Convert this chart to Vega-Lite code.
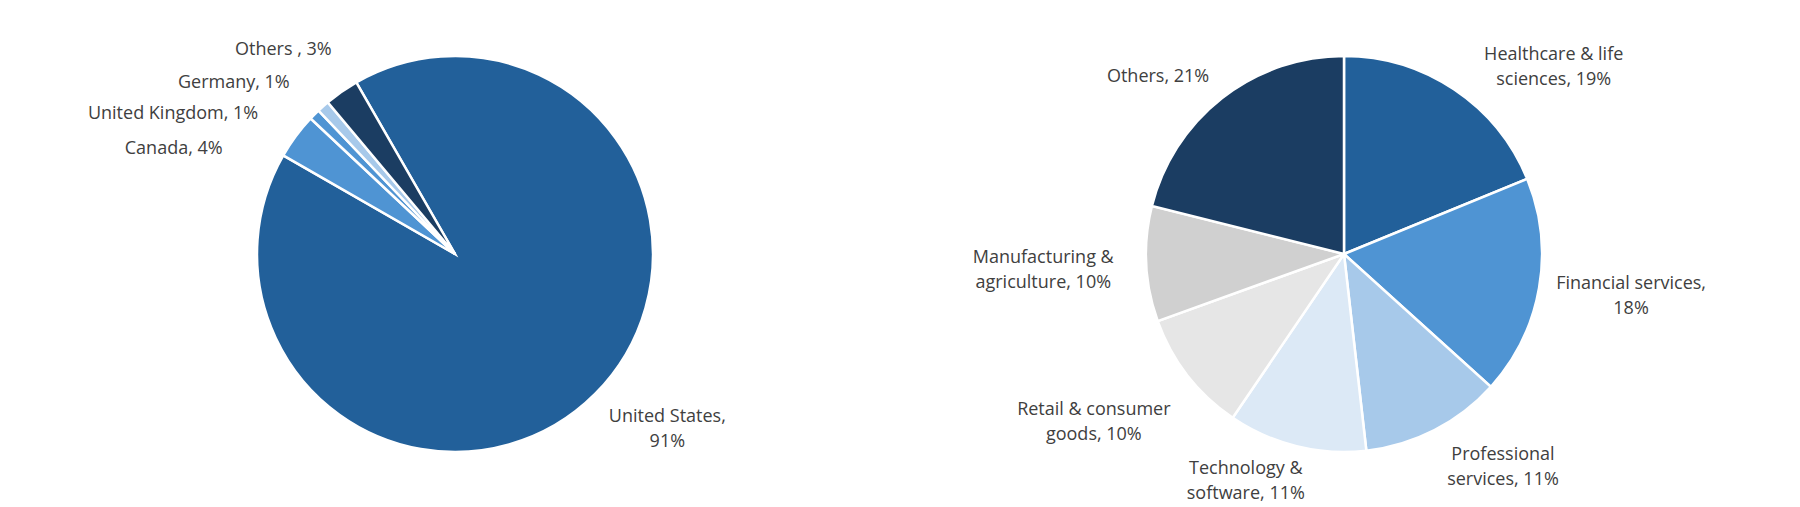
{
  "$schema": "https://vega.github.io/schema/vega-lite/v6.json",
  "padding": {"left": 0, "top": 10, "right": 0, "bottom": 0},
  "spacing": 0,
  "resolve": {"scale": {"color": "independent", "theta": "independent"}},
  "config": {
    "view": {"stroke": null},
    "text": {"font": "Open Sans", "fontSize": 18, "color": "#404040", "lineBreak": "\n", "lineHeight": 25, "baseline": "middle"}
  },
  "hconcat": [
    {
      "width": 910,
      "height": 488,
      "data": {
        "values": [
          {"region": "United States", "share": 91.6, "label": "United States,\n91%"},
          {"region": "Canada", "share": 3.7, "label": "Canada, 4%"},
          {"region": "United Kingdom", "share": 0.9, "label": "United Kingdom, 1%"},
          {"region": "Germany", "share": 1.0, "label": "Germany, 1%"},
          {"region": "Others", "share": 2.8, "label": "Others , 3%"}
        ]
      },
      "transform": [{"window": [{"op": "row_number", "as": "ord"}]}],
      "encoding": {
        "theta": {"field": "share", "type": "quantitative", "stack": true, "scale": {"range": [-0.5219, 5.7613]}},
        "order": {"field": "ord", "type": "quantitative"}
      },
      "layer": [
        {
          "mark": {"type": "arc", "outerRadius": 198, "stroke": "white", "strokeWidth": 2.5},
          "encoding": {
            "color": {
              "field": "region",
              "type": "nominal",
              "legend": null,
              "scale": {
                "domain": ["United States", "Canada", "United Kingdom", "Germany", "Others"],
                "range": ["#22609a", "#4f94d3", "#4f94d3", "#a7c9ea", "#1b3d62"]
              }
            }
          }
        },
        {
          "mark": {"type": "text", "radius": 197, "align": "center", "dx": 73, "dy": 23.5},
          "encoding": {"detail": {"field": "region"}, "text": {"condition": {"test": "datum.region === 'United States'", "field": "label"}, "value": ""}}
        },
        {
          "mark": {"type": "text", "radius": 197, "align": "right", "dx": -74, "dy": 12.5},
          "encoding": {"detail": {"field": "region"}, "text": {"condition": {"test": "datum.region === 'Canada'", "field": "label"}, "value": ""}}
        },
        {
          "mark": {"type": "text", "radius": 197, "align": "right", "dx": -57, "dy": -1},
          "encoding": {"detail": {"field": "region"}, "text": {"condition": {"test": "datum.region === 'United Kingdom'", "field": "label"}, "value": ""}}
        },
        {
          "mark": {"type": "text", "radius": 197, "align": "right", "dx": -34, "dy": -24},
          "encoding": {"detail": {"field": "region"}, "text": {"condition": {"test": "datum.region === 'Germany'", "field": "label"}, "value": ""}}
        },
        {
          "mark": {"type": "text", "radius": 197, "align": "right", "dx": -10.5, "dy": -43},
          "encoding": {"detail": {"field": "region"}, "text": {"condition": {"test": "datum.region === 'Others'", "field": "label"}, "value": ""}}
        }
      ]
    },
    {
      "width": 868,
      "height": 488,
      "data": {
        "values": [
          {"sector": "Healthcare & life sciences", "share": 18.8, "label": "Healthcare & life\nsciences, 19%"},
          {"sector": "Financial services", "share": 17.9, "label": "Financial services,\n18%"},
          {"sector": "Professional services", "share": 11.5, "label": "Professional\nservices, 11%"},
          {"sector": "Technology & software", "share": 11.3, "label": "Technology &\nsoftware, 11%"},
          {"sector": "Retail & consumer goods", "share": 10.0, "label": "Retail & consumer\ngoods, 10%"},
          {"sector": "Manufacturing & agriculture", "share": 9.4, "label": "Manufacturing &\nagriculture, 10%"},
          {"sector": "Others", "share": 21.1, "label": "Others, 21%"}
        ]
      },
      "transform": [{"window": [{"op": "row_number", "as": "ord"}]}],
      "encoding": {
        "theta": {"field": "share", "type": "quantitative", "stack": true},
        "order": {"field": "ord", "type": "quantitative"}
      },
      "layer": [
        {
          "mark": {"type": "arc", "outerRadius": 198, "stroke": "white", "strokeWidth": 2.5},
          "encoding": {
            "color": {
              "field": "sector",
              "type": "nominal",
              "legend": null,
              "scale": {
                "domain": ["Healthcare & life sciences", "Financial services", "Professional services", "Technology & software", "Retail & consumer goods", "Manufacturing & agriculture", "Others"],
                "range": ["#22609a", "#4f94d3", "#a7c9ea", "#dce9f6", "#e6e6e6", "#d0d0d0", "#1b3d62"]
              }
            }
          }
        },
        {
          "mark": {"type": "text", "radius": 197, "align": "center", "dx": 100, "dy": -35.5},
          "encoding": {"detail": {"field": "sector"}, "text": {"condition": {"test": "datum.sector === 'Healthcare & life sciences'", "field": "label"}, "value": ""}}
        },
        {
          "mark": {"type": "text", "radius": 197, "align": "center", "dx": 93, "dy": -4},
          "encoding": {"detail": {"field": "sector"}, "text": {"condition": {"test": "datum.sector === 'Financial services'", "field": "label"}, "value": ""}}
        },
        {
          "mark": {"type": "text", "radius": 197, "align": "center", "dx": 69, "dy": 26},
          "encoding": {"detail": {"field": "sector"}, "text": {"condition": {"test": "datum.sector === 'Professional services'", "field": "label"}, "value": ""}}
        },
        {
          "mark": {"type": "text", "radius": 197, "align": "center", "dx": -51, "dy": 23.7},
          "encoding": {"detail": {"field": "sector"}, "text": {"condition": {"test": "datum.sector === 'Technology & software'", "field": "label"}, "value": ""}}
        },
        {
          "mark": {"type": "text", "radius": 197, "align": "center", "dx": -94.5, "dy": 34.8},
          "encoding": {"detail": {"field": "sector"}, "text": {"condition": {"test": "datum.sector === 'Retail & consumer goods'", "field": "label"}, "value": ""}}
        },
        {
          "mark": {"type": "text", "radius": 197, "align": "center", "dx": -104, "dy": -6.2},
          "encoding": {"detail": {"field": "sector"}, "text": {"condition": {"test": "datum.sector === 'Manufacturing & agriculture'", "field": "label"}, "value": ""}}
        },
        {
          "mark": {"type": "text", "radius": 197, "align": "center", "dx": -64.7, "dy": -21.3},
          "encoding": {"detail": {"field": "sector"}, "text": {"condition": {"test": "datum.sector === 'Others'", "field": "label"}, "value": ""}}
        }
      ]
    }
  ]
}
